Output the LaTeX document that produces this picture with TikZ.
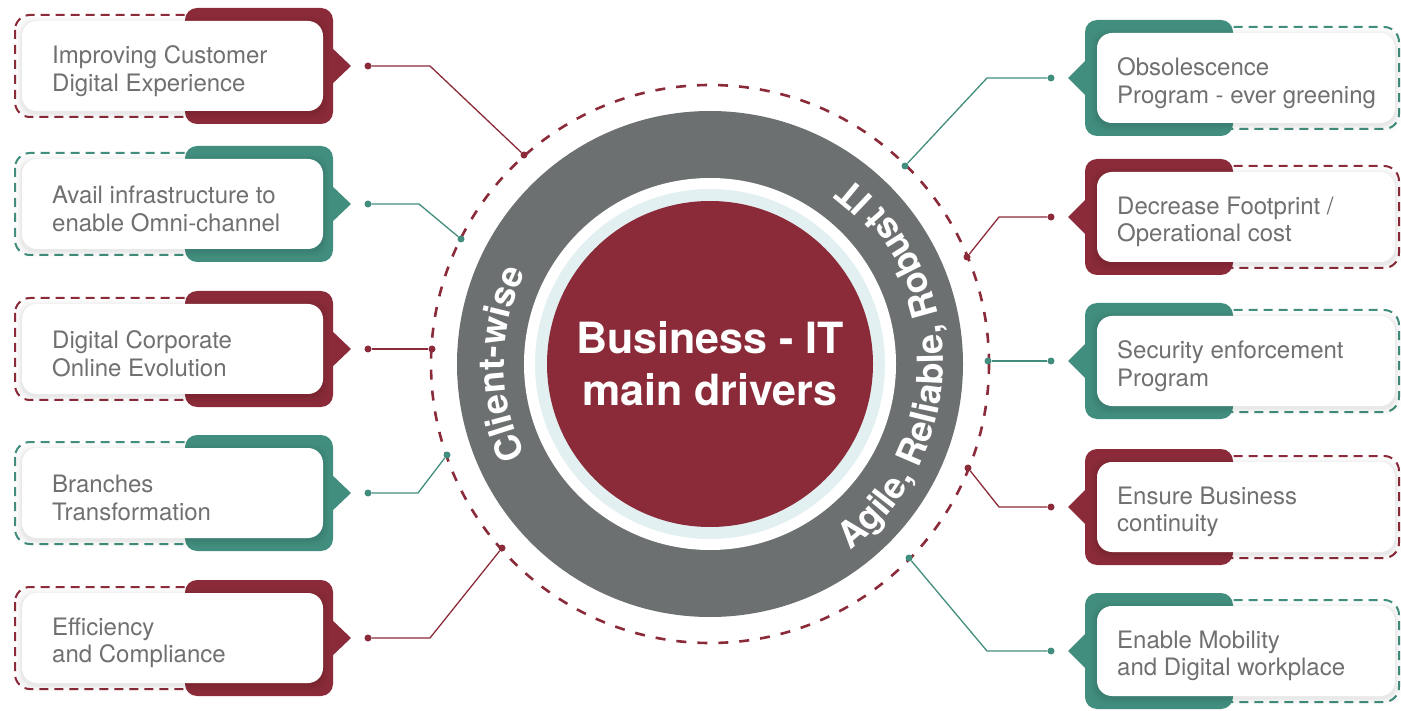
\documentclass[tikz,border=0pt]{standalone}
\usepackage{fontspec}
\setmainfont{TeX Gyre Heros}
\usetikzlibrary{decorations.text}
\definecolor{bred}{HTML}{8B2B39}
\definecolor{bgreen}{HTML}{428E7E}
\definecolor{ringgray}{HTML}{6D7071}
\definecolor{txtgray}{HTML}{707070}
\definecolor{lblue}{HTML}{E3F0F2}
\newcommand\ringfont{\bfseries\fontsize{36}{40}\selectfont}
\tikzset{
  dashbox/.style={dash pattern=on 9pt off 6pt, line width=2pt, rounded corners=15pt},
  solidbox/.style={rounded corners=12pt},
  whitebox/.style={fill=white, rounded corners=15pt},
  boxtext/.style={font=\fontsize{24}{27.5}\selectfont, text=txtgray, align=left, inner sep=0pt, anchor=west},
  dotnode/.style={circle, inner sep=0pt, minimum size=7pt},
  conn/.style={line width=1.3pt},
  ringtext/.style={decorate, decoration={text along path, text align=center, text color=white}},
}
\newcommand\LBox[4]{%
  \draw[dashbox, draw=#2] (15,#1-51) rectangle (240,#1+51);
  \fill[#2, solidbox] (185,#1-58) rectangle (333,#1+58);
  \fill[#2] (330,#1-20) -- (351,#1) -- (330,#1+20) -- cycle;
  \foreach \sa/\op in {7/0.012,5/0.018,3/0.025,1.5/0.03}{%
    \fill[black, opacity=\op, rounded corners=15pt] (22-\sa,#1-45-\sa+2) rectangle (323+\sa,#1+45+\sa+2);}
  \fill[whitebox] (22,#1-45) rectangle (323,#1+45);
  \node[boxtext] (#3) at (52,#1+5) {#4};
  \node[dotnode, fill=#2] (#3d) at (368,#1) {};
}
\newcommand\RBox[4]{%
  \draw[dashbox, draw=#2] (1170,#1-51) rectangle (1399,#1+51);
  \fill[#2, solidbox] (1085,#1-58) rectangle (1233,#1+58);
  \fill[#2] (1088,#1-20) -- (1068,#1) -- (1088,#1+20) -- cycle;
  \foreach \sa/\op in {7/0.012,5/0.018,3/0.025,1.5/0.03}{%
    \fill[black, opacity=\op, rounded corners=15pt] (1097-\sa,#1-45-\sa+2) rectangle (1395+\sa,#1+45+\sa+2);}
  \fill[whitebox] (1097,#1-45) rectangle (1395,#1+45);
  \node[boxtext] (#3) at (1117,#1+5) {#4};
  \node[dotnode, fill=#2] (#3d) at (1051,#1) {};
}
\begin{document}
\begin{tikzpicture}[x=1pt, y=-1pt]
\useasboundingbox[fill=white] (0,0) rectangle (1401,711);
\coordinate (C) at (710,364);
% central rings
\fill[ringgray] (C) circle (253);
\fill[white] (C) circle (186);
\fill[lblue] (C) circle (175);
\fill[bred] (C) circle (163);
\draw[bred, line width=2.6pt, dash pattern=on 10pt off 11pt] (C) circle (279);
\node[font=\bfseries\fontsize{43}{52}\selectfont, text=white, align=center, inner sep=0pt] (title) at (710,364) {Business - IT\\main drivers};
\path[ringtext, decoration={text={|\ringfont|Client-wise}}] ([shift={(120:206)}]C) arc[start angle=120, end angle=240, radius=206];
\path[ringtext, decoration={text={|\ringfont|Agile, Reliable, Robust IT}}] ([shift={(80:233)}]C) arc[start angle=80, end angle=-80, radius=233];
% left boxes
\LBox{66}{bred}{L1}{Improving Customer\\Digital Experience}
\LBox{204}{bgreen}{L2}{Avail infrastructure to\\enable Omni-channel}
\LBox{349}{bred}{L3}{Digital Corporate\\Online Evolution}
\LBox{493}{bgreen}{L4}{Branches\\Transformation}
\LBox{638}{bred}{L5}{Efficiency\\and Compliance}
% right boxes
\RBox{78}{bgreen}{R1}{Obsolescence\\Program - ever greening}
\RBox{217}{bred}{R2}{Decrease Footprint /\\Operational cost}
\RBox{361}{bgreen}{R3}{Security enforcement\\Program}
\RBox{507}{bred}{R4}{Ensure Business\\continuity}
\RBox{651}{bgreen}{R5}{Enable Mobility\\and Digital workplace}
% end dots on the dashed circle
\node[dotnode, fill=bred] (eL1) at (524,155) {};
\node[dotnode, fill=bgreen] (eL2) at (461,239) {};
\node[dotnode, fill=bred] (eL3) at (432,349) {};
\node[dotnode, fill=bgreen] (eL4) at (447,455) {};
\node[dotnode, fill=bred] (eL5) at (502,548) {};
\node[dotnode, fill=bgreen] (eR1) at (905,166) {};
\node[dotnode, fill=bred] (eR2) at (967,257) {};
\node[dotnode, fill=bgreen] (eR3) at (988,361) {};
\node[dotnode, fill=bred] (eR4) at (968,468) {};
\node[dotnode, fill=bgreen] (eR5) at (909,558) {};
% connectors
\draw[conn, bred] (L1d) -- (430,66) -- (eL1);
\draw[conn, bgreen] (L2d) -- (419,204) -- (eL2);
\draw[conn, bred] (L3d) -- (eL3);
\draw[conn, bgreen] (L4d) -- (418,493) -- (eL4);
\draw[conn, bred] (L5d) -- (430,638) -- (eL5);
\draw[conn, bgreen] (R1d) -- (987,78) -- (eR1);
\draw[conn, bred] (R2d) -- (999,217) -- (eR2);
\draw[conn, bgreen] (R3d) -- (eR3);
\draw[conn, bred] (R4d) -- (999,507) -- (eR4);
\draw[conn, bgreen] (R5d) -- (987,651) -- (eR5);
\end{tikzpicture}
\end{document}
